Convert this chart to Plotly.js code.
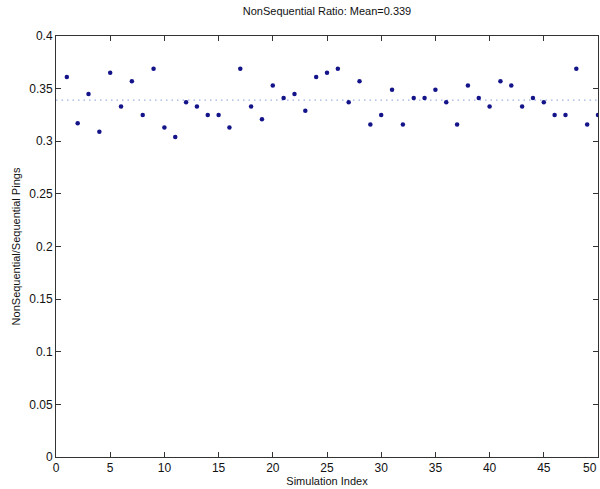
<!DOCTYPE html>
<html><head><meta charset="utf-8">
<script src="https://cdn.plot.ly/plotly-3.0.1.min.js"></script>
<style>html,body{margin:0;padding:0;background:#fff;overflow:hidden;}#c{width:600px;height:489px;}</style>
</head><body><div id="c"></div>
<script>
const simIndex = [1,2,3,4,5,6,7,8,9,10,11,12,13,14,15,16,17,18,19,20,21,22,23,24,25,26,27,28,29,30,31,32,33,34,35,36,37,38,39,40,41,42,43,44,45,46,47,48,49,50];
const ratio = [0.361,0.317,0.345,0.309,0.365,0.333,0.357,0.325,0.369,0.313,
               0.304,0.337,0.333,0.325,0.325,0.313,0.369,0.333,0.321,0.353,
               0.341,0.345,0.329,0.361,0.365,0.369,0.337,0.357,0.316,0.325,
               0.349,0.316,0.341,0.341,0.349,0.337,0.316,0.353,0.341,0.333,
               0.357,0.353,0.333,0.341,0.337,0.325,0.325,0.369,0.316,0.325];
const meanValue = 0.339;
const meanX = [0, 50];
const meanY = [meanValue, meanValue];
const xTicks = [0,5,10,15,20,25,30,35,40,45];
const lastXTick = 50;
const yTicks = [0,0.05,0.1,0.15,0.2,0.25,0.3,0.35,0.4];
const yTickText = ['0','0.05','0.1','0.15','0.2','0.25','0.3','0.35','0.4'];

const font = {family: 'Liberation Sans, Arial, sans-serif', size: 12, color: '#111'};
const axisCommon = {
  showgrid: false, zeroline: false, showline: true, linecolor: '#333', linewidth: 1,
  mirror: 'ticks', ticks: 'inside', ticklen: 5, tickcolor: '#333', tickwidth: 1,
  tickfont: font
};
const data = [
  {x: meanX, y: meanY, mode: 'lines', line: {color: '#9fb2e0', width: 1.2, dash: '1.5px,4px'}, hoverinfo: 'skip'},
  {x: simIndex, y: ratio, mode: 'markers', marker: {color: '#14148a', size: 4.5}}
];
const layout = {
  width: 600, height: 489, showlegend: false,
  paper_bgcolor: '#fff', plot_bgcolor: '#fff',
  margin: {l: 56, r: 2, t: 36, b: 32},
  title: {text: 'NonSequential Ratio: Mean=0.339', font: {family: font.family, size: 11, color: '#111'}, x: 0.545, xanchor: 'center', y: 0.978, yanchor: 'middle'},
  xaxis: Object.assign({}, axisCommon, {range: [0, 50], tickvals: xTicks.concat([lastXTick]), ticktext: xTicks.map(String).concat(['']), tickangle: 0,
    title: {text: 'Simulation Index', font: {family: font.family, size: 11, color: '#111'}, standoff: 2}}),
  yaxis: Object.assign({}, axisCommon, {range: [0, 0.4], tickvals: yTicks, ticktext: yTickText,
    title: {text: 'NonSequential/Sequential Pings', font: {family: font.family, size: 11, color: '#111'}, standoff: 6}}),
  annotations: [{x: 1, y: 0, xref: 'paper', yref: 'y', text: String(lastXTick), showarrow: false,
    xanchor: 'right', yanchor: 'top', xshift: 1, yshift: -2, font: font}]
};
Plotly.newPlot('c', data, layout, {displayModeBar: false, staticPlot: true});
</script></body></html>
